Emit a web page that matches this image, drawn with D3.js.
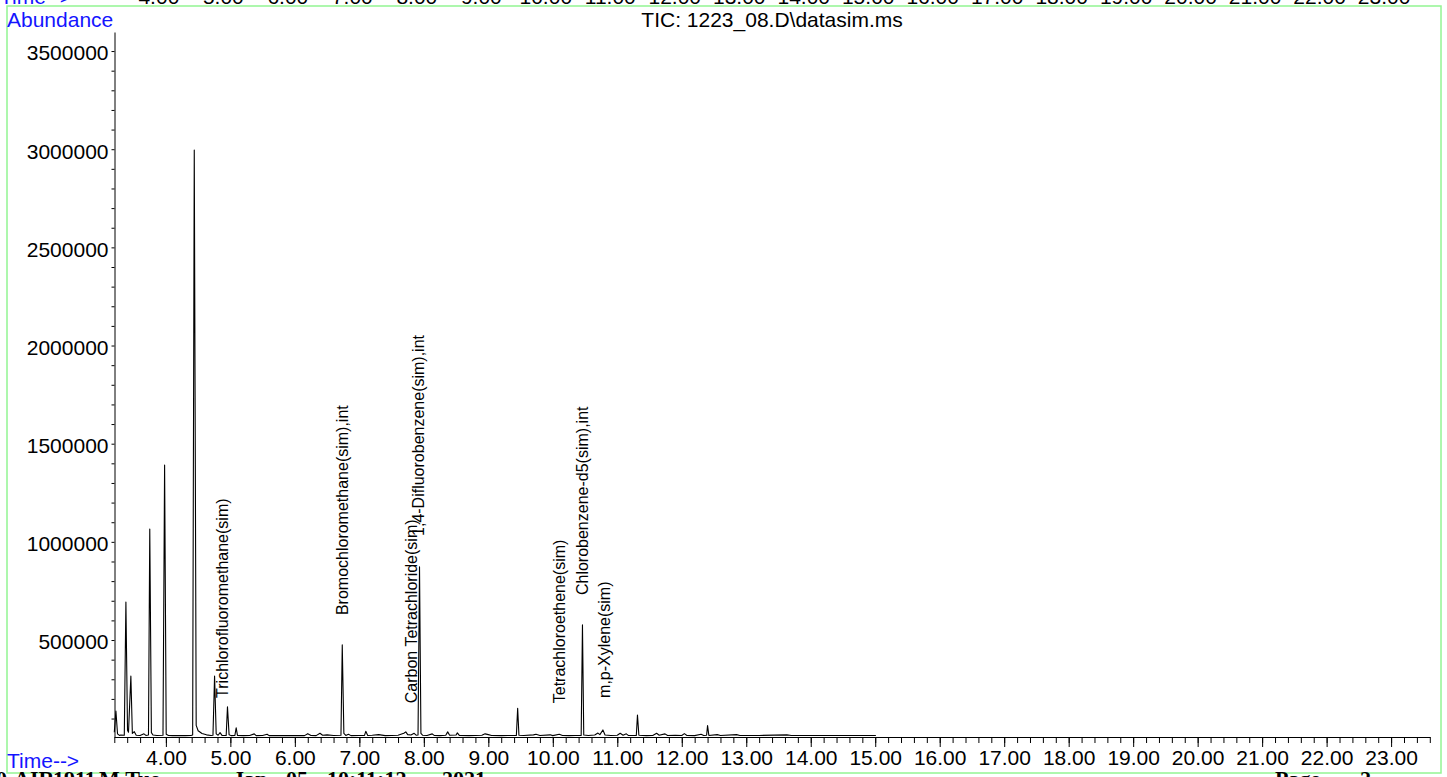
<!DOCTYPE html>
<html>
<head>
<meta charset="utf-8">
<title>TIC: 1223_08.D\datasim.ms</title>
<style type="text/css">
  body { margin: 0; background: #fff; }
  svg { display: block; }
  text { font-family: "Liberation Sans", Arial, sans-serif; }
</style>
</head>
<body>
<div id="chart"></div>
<script src="https://d3js.org/d3.v7.min.js"></script>
<script type="text/javascript">
// retention time (min) and abundance of the TIC trace vertices
var rt = [3.200, 3.225, 3.250, 3.280, 3.300, 3.355, 3.380, 3.405, 3.420, 3.457, 3.480, 3.510, 3.540, 3.600,
  3.660, 3.690, 3.730, 3.750, 3.775, 3.800, 3.860, 3.955, 3.980, 4.005, 4.040, 4.100, 4.200, 4.300, 4.390,
  4.415, 4.440, 4.470, 4.500, 4.560, 4.630, 4.700, 4.730, 4.755, 4.780, 4.810, 4.840, 4.870, 4.935, 4.955,
  4.980, 5.010, 5.070, 5.090, 5.110, 5.200, 5.300, 5.370, 5.400, 5.500, 5.570, 5.600, 5.800, 6.000, 6.150,
  6.200, 6.250, 6.330, 6.390, 6.430, 6.500, 6.600, 6.715, 6.735, 6.760, 6.790, 6.830, 6.870, 7.000, 7.080,
  7.100, 7.130, 7.200, 7.300, 7.400, 7.500, 7.600, 7.690, 7.720, 7.750, 7.800, 7.850, 7.880, 7.910, 7.933,
  7.955, 7.980, 8.050, 8.130, 8.160, 8.250, 8.340, 8.370, 8.400, 8.500, 8.520, 8.550, 8.700, 8.800, 8.900,
  8.950, 9.000, 9.050, 9.200, 9.300, 9.435, 9.455, 9.475, 9.550, 9.700, 9.740, 9.800, 9.960, 10.000, 10.100,
  10.150, 10.250, 10.350, 10.440, 10.460, 10.480, 10.550, 10.650, 10.700, 10.730, 10.777, 10.810, 10.900,
  11.000, 11.045, 11.090, 11.140, 11.170, 11.295, 11.313, 11.335, 11.450, 11.550, 11.610, 11.650, 11.740,
  11.780, 11.900, 12.000, 12.040, 12.080, 12.200, 12.300, 12.340, 12.385, 12.400, 12.420, 12.550, 12.600,
  12.850, 12.900, 13.200, 13.630, 13.700, 14.000, 14.500, 15.010];
var abundance = [30000, 138000, 22000, 14000, 16000, 15000, 693000, 40000, 30000, 316000, 24000, 33000, 15000, 14000,
  22000, 14000, 16000, 1065000, 28000, 16000, 14000, 15000, 1391000, 20000, 14000, 13000, 14000, 13000, 14000,
  16000, 2996000, 65000, 38000, 24000, 17000, 14000, 15000, 317000, 22000, 15000, 28000, 14000, 14000, 160000,
  18000, 13000, 14000, 53000, 14000, 13000, 14000, 22000, 13000, 14000, 20000, 13000, 13000, 14000, 13000,
  23000, 14000, 13000, 25000, 15000, 17000, 14000, 15000, 475000, 24000, 14000, 20000, 13000, 14000, 14000,
  35000, 14000, 15000, 18000, 13000, 14000, 15000, 25000, 32000, 18000, 16000, 25000, 15000, 16000, 873000,
  24000, 15000, 14000, 22000, 14000, 13000, 15000, 32000, 15000, 16000, 27000, 14000, 13000, 14000, 15000,
  22000, 18000, 14000, 13000, 14000, 14000, 152000, 15000, 14000, 17000, 20000, 14000, 17000, 13000, 20000,
  14000, 13000, 14000, 14000, 577000, 16000, 14000, 16000, 26000, 18000, 42000, 16000, 14000,
  15000, 25000, 15000, 22000, 14000, 14000, 118000, 15000, 13000, 14000, 25000, 15000, 22000,
  14000, 15000, 14000, 23000, 14000, 13000, 20000, 14000, 15000, 64000, 14000, 18000, 14000,
  18000, 14000, 14000, 17000, 14000, 14000, 14000, 14000];

// compound labels: name, retention time and abundance where the text starts
var peakNames = ["Trichlorofluoromethane(sim)", "Bromochloromethane(sim),int", "Carbon Tetrachloride(sim)",
  "1,4-Difluorobenzene(sim),int", "Tetrachloroethene(sim)", "Chlorobenzene-d5(sim),int", "m,p-Xylene(sim)"];
var peakRt = [4.96, 6.83, 7.90, 8.00, 10.19, 10.55, 10.89];
var peakLabelAt = [205000, 627000, 178000, 1030000, 178000, 729000, 205000];

var xMajor = [4, 5, 6, 7, 8, 9, 10, 11, 12, 13, 14, 15, 16, 17, 18, 19, 20, 21, 22, 23];
var yMajor = [500000, 1000000, 1500000, 2000000, 2500000, 3000000, 3500000];

var width = 1447, height = 777;
var fmtX = d3.format(".2f");

var x = d3.scaleLinear().domain([3.2, 23.6]).range([114.3, 1429.8]);
var y = d3.scaleLinear().domain([6000, 3597000]).range([737, 32]);

var svg = d3.select("#chart").append("svg")
  .attr("width", width)
  .attr("height", height);

// green page frame
svg.append("rect")
  .attr("x", 7).attr("y", 6)
  .attr("width", 1434).attr("height", 767)
  .attr("fill", "none")
  .attr("stroke", "#93f593")
  .attr("stroke-width", 1.5);

// tail of the previous page's axis, cut off at the top
svg.append("text")
  .attr("x", 0).attr("y", 4)
  .attr("fill", "#1414ff")
  .style("font-size", "21px")
  .text("Time-->");
svg.append("g").selectAll("text")
  .data(xMajor)
  .join("text")
  .attr("x", d => x(d) - 7)
  .attr("y", 4)
  .attr("text-anchor", "middle")
  .style("font-size", "21px")
  .text(d => fmtX(d));

// footer line, cut off at the bottom
var footer = [["0", -4], ["AIR", 14], ["1911", 53], ["M.Tue", 99], ["Jan", 233], ["05", 286],
  ["10:11:12", 327], ["2021", 442], ["Page", 1275], ["2", 1360]];
svg.append("g").selectAll("text")
  .data(footer)
  .join("text")
  .attr("x", d => d[1])
  .attr("y", 786)
  .style("font-family", "'Liberation Serif', 'Times New Roman', serif")
  .style("font-weight", "bold")
  .style("font-size", "22px")
  .text(d => d[0]);

// axes
var minorX = d3.range(16, 119).map(i => i / 5);
svg.append("g")
  .attr("transform", "translate(0,737)")
  .call(d3.axisBottom(x).tickValues(minorX).tickSize(6).tickSizeOuter(0).tickFormat(""))
  .call(g => g.selectAll("line, path").attr("stroke", "#000"));

svg.append("g")
  .attr("transform", "translate(0,737)")
  .call(d3.axisBottom(x).tickValues(xMajor).tickSize(10).tickSizeOuter(0).tickFormat(fmtX))
  .call(g => g.select(".domain").remove())
  .call(g => g.selectAll("line").attr("stroke", "#000"))
  .call(g => g.selectAll("text")
    .attr("fill", "#000")
    .style("font-family", "'Liberation Sans', Arial, sans-serif")
    .style("font-size", "21px"));

var minorY = d3.range(1, 36).map(i => i * 100000);
svg.append("g")
  .attr("transform", "translate(114.5,0)")
  .call(d3.axisLeft(y).tickValues(minorY).tickSize(3).tickSizeOuter(0)
    .tickFormat(d => yMajor.indexOf(d) >= 0 ? d : ""))
  .call(g => g.selectAll("line, path").attr("stroke", "#000"))
  .call(g => g.selectAll("text")
    .attr("fill", "#000")
    .attr("dy", "0.42em")
    .style("font-family", "'Liberation Sans', Arial, sans-serif")
    .style("font-size", "21px"));

// axis titles
svg.append("text")
  .attr("x", 7).attr("y", 27)
  .attr("fill", "#1414ff")
  .style("font-size", "21px")
  .text("Abundance");

svg.append("text")
  .attr("x", 7).attr("y", 768)
  .attr("fill", "#1414ff")
  .style("font-size", "21px")
  .text("Time-->");

svg.append("text")
  .attr("x", (x.range()[0] + x.range()[1]) / 2)
  .attr("y", 27)
  .attr("text-anchor", "middle")
  .attr("fill", "#000")
  .style("font-size", "21px")
  .text("TIC: 1223_08.D\\datasim.ms");

// the trace
var line = d3.line()
  .x(d => x(d[0]))
  .y(d => y(d[1]));

svg.append("path")
  .datum(d3.zip(rt, abundance))
  .attr("d", line)
  .attr("fill", "none")
  .attr("stroke", "#000")
  .attr("stroke-width", 1.1)
  .attr("stroke-linejoin", "round");

// compound labels
svg.append("g").selectAll("text")
  .data(d3.range(peakNames.length))
  .join("text")
  .attr("transform", i => `translate(${x(peakRt[i])},${y(peakLabelAt[i])}) rotate(-90)`)
  .attr("fill", "#000")
  .style("font-size", "16px")
  .text(i => peakNames[i]);
</script>
</body>
</html>
